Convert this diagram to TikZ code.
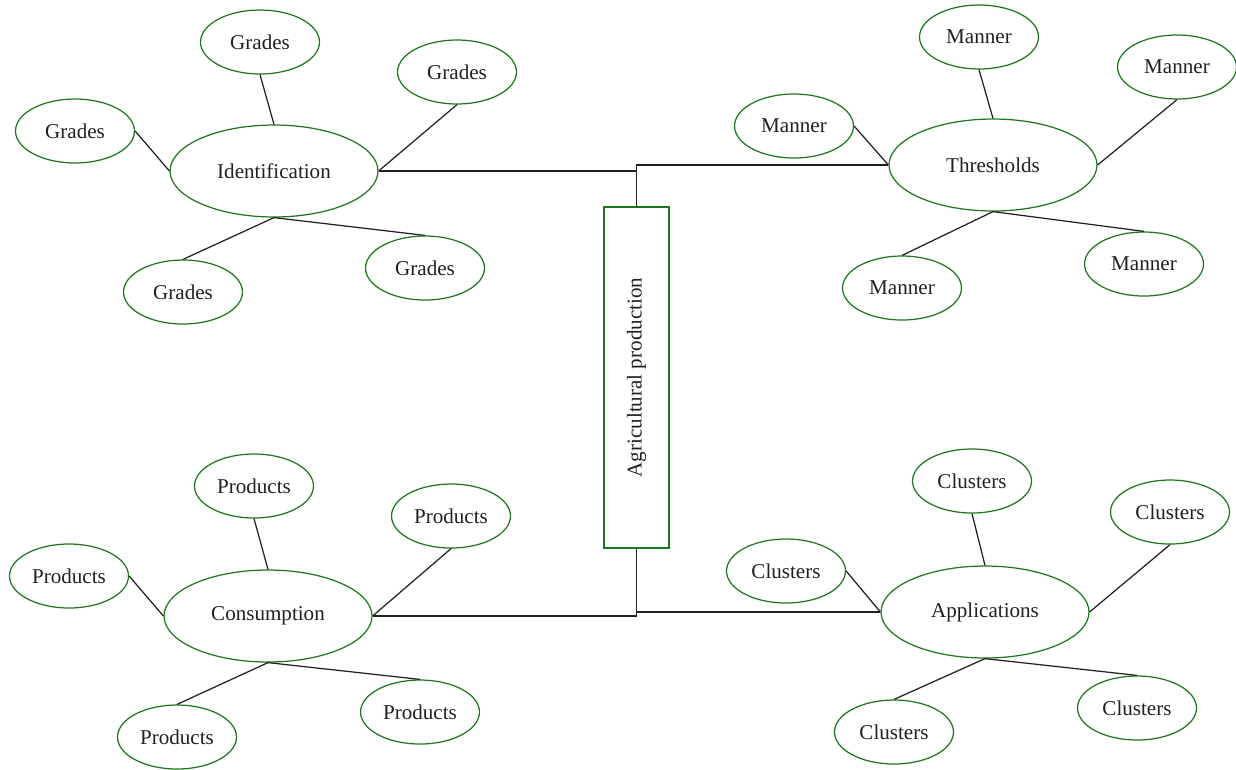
\documentclass[tikz,border=0pt]{standalone}
\usepackage{fontspec}
\setmainfont{Liberation Serif}
\usetikzlibrary{shapes.geometric}
\definecolor{ringgreen}{RGB}{30,118,30}
\definecolor{inkgray}{RGB}{35,31,32}

\begin{document}
\begin{tikzpicture}[x=0.02cm, y=-0.02cm, line width=0.7pt,
    every node/.style={font=\fontsize{12}{14}\selectfont, text=inkgray},
    hub/.style={ellipse, draw=ringgreen, minimum width=4.16cm, minimum height=1.84cm, inner sep=0pt},
    leaf/.style={ellipse, draw=ringgreen, minimum width=2.38cm, minimum height=1.28cm, inner sep=0pt},
    spoke/.style={draw=inkgray}]
    \useasboundingbox (0,0) rectangle (1236,769);
    % centre box
    \node[draw=ringgreen, rotate=90, minimum width=6.82cm, minimum height=1.3cm, inner sep=0pt] (agri) at (636.5,377.5) {Agricultural production};
    % hubs
    \node[hub] (ident)  at (274,171) {Identification};
    \node[hub] (thresh) at (993,165) {Thresholds};
    \node[hub] (cons)   at (268,616) {Consumption};
    \node[hub] (appl)   at (985,612) {Applications};
    % leaves: top, right, left, bottom left, bottom right
    \node[leaf] (g1) at (260,42)  {Grades};
    \node[leaf] (g2) at (457,72)  {Grades};
    \node[leaf] (g3) at (75,131)  {Grades};
    \node[leaf] (g4) at (183,292) {Grades};
    \node[leaf] (g5) at (425,268) {Grades};
    \node[leaf] (m1) at (979,37)   {Manner};
    \node[leaf] (m2) at (1177,67)  {Manner};
    \node[leaf] (m3) at (794,126)  {Manner};
    \node[leaf] (m4) at (902,288)  {Manner};
    \node[leaf] (m5) at (1144,264) {Manner};
    \node[leaf] (p1) at (254,486) {Products};
    \node[leaf] (p2) at (451,516) {Products};
    \node[leaf] (p3) at (69,576)  {Products};
    \node[leaf] (p4) at (177,737) {Products};
    \node[leaf] (p5) at (420,712) {Products};
    \node[leaf] (c1) at (972,481)  {Clusters};
    \node[leaf] (c2) at (1170,512) {Clusters};
    \node[leaf] (c3) at (786,571)  {Clusters};
    \node[leaf] (c4) at (894,732)  {Clusters};
    \node[leaf] (c5) at (1137,708) {Clusters};
    % spokes
    \foreach \h/\s in {ident/g, thresh/m, cons/p, appl/c} {
        \draw[spoke] (\s1.south) -- (\h.north);
        \draw[spoke] (\s2.south) -- (\h.east);
        \draw[spoke] (\s3.east) -- (\h.west);
        \draw[spoke] (\s4.north) -- (\h.south);
        \draw[spoke] (\s5.north) -- (\h.south);
    }
    % links to the box
    \draw[spoke] (ident.east) -| (agri.east);
    \draw[spoke] (agri.east) |- (thresh.west);
    \draw[spoke] (cons.east) -| (agri.west);
    \draw[spoke] (agri.west) |- (appl.west);
\end{tikzpicture}
\end{document}
